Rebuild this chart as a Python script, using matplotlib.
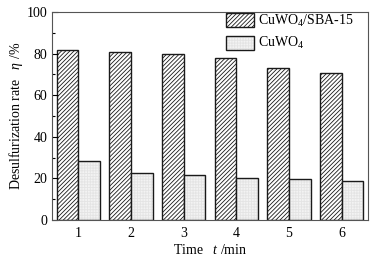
import matplotlib
matplotlib.use("Agg")
import matplotlib.pyplot as plt
import numpy as np
from matplotlib.legend_handler import HandlerTuple

plt.rcParams['font.family'] = ['Liberation Serif', 'DejaVu Serif']
plt.rcParams['hatch.linewidth'] = 0.6
plt.rcParams['mathtext.fontset'] = 'custom'
plt.rcParams['mathtext.rm'] = 'Liberation Serif'
plt.rcParams['mathtext.it'] = 'Liberation Serif:italic'

times = [1, 2, 3, 4, 5, 6]
sba15 = [81.7, 80.9, 79.8, 77.7, 72.9, 70.5]
cuwo4 = [28.5, 22.4, 21.5, 20.0, 19.6, 18.9]
series_labels = ['CuWO$_4$/SBA-15', 'CuWO$_4$']

fig = plt.figure(figsize=(3.79, 2.57), dpi=100)
ax = fig.add_axes([52/379, 1 - 220/257, 316/379, 208/257])

x = np.array(times, dtype=float)
w = 0.41
h1 = ax.bar(x - w/2, sba15, width=w, facecolor='white', edgecolor='#1a1a1a',
            hatch='////////', linewidth=1.0)
h2a = ax.bar(x + w/2, cuwo4, width=w, facecolor='#f3f3f3', edgecolor='#e4e4e4',
             hatch='++++++', linewidth=0)
h2b = ax.bar(x + w/2, cuwo4, width=w, fill=False, edgecolor='#1a1a1a',
             linewidth=1.0)

ax.set_xlim(0.5, 6.5)
ax.set_ylim(0, 100)
ax.set_xticks(times)
ax.set_yticks([0, 20, 40, 60, 80, 100])
ax.set_yticks([10, 30, 50, 70, 90], minor=True)
ax.tick_params(axis='both', direction='in', labelsize=10, length=4, width=0.8)
ax.tick_params(axis='y', which='minor', direction='in', length=2.5, width=0.8)
ax.tick_params(axis='x', length=0, pad=5)
for s in ax.spines.values():
    s.set_linewidth(0.8)
    s.set_color('#555555')

ax.set_xlabel('Time   $\\mathit{t}$ /min', fontsize=10, labelpad=2)
ax.set_ylabel('Desulfurization rate   $\\mathit{\\eta}$ /%', fontsize=10, labelpad=1)

leg = fig.legend([h1, (h2a, h2b)], series_labels,
                 handler_map={tuple: HandlerTuple(ndivide=1, pad=0)},
                 loc='upper left', bbox_to_anchor=(226/379, 1 - 13/257),
                 frameon=False, fontsize=10, handlelength=2.0, handleheight=1.2,
                 handletextpad=0.3, labelspacing=0.45, borderaxespad=0, borderpad=0)

fig.savefig('out.png', dpi=100)
